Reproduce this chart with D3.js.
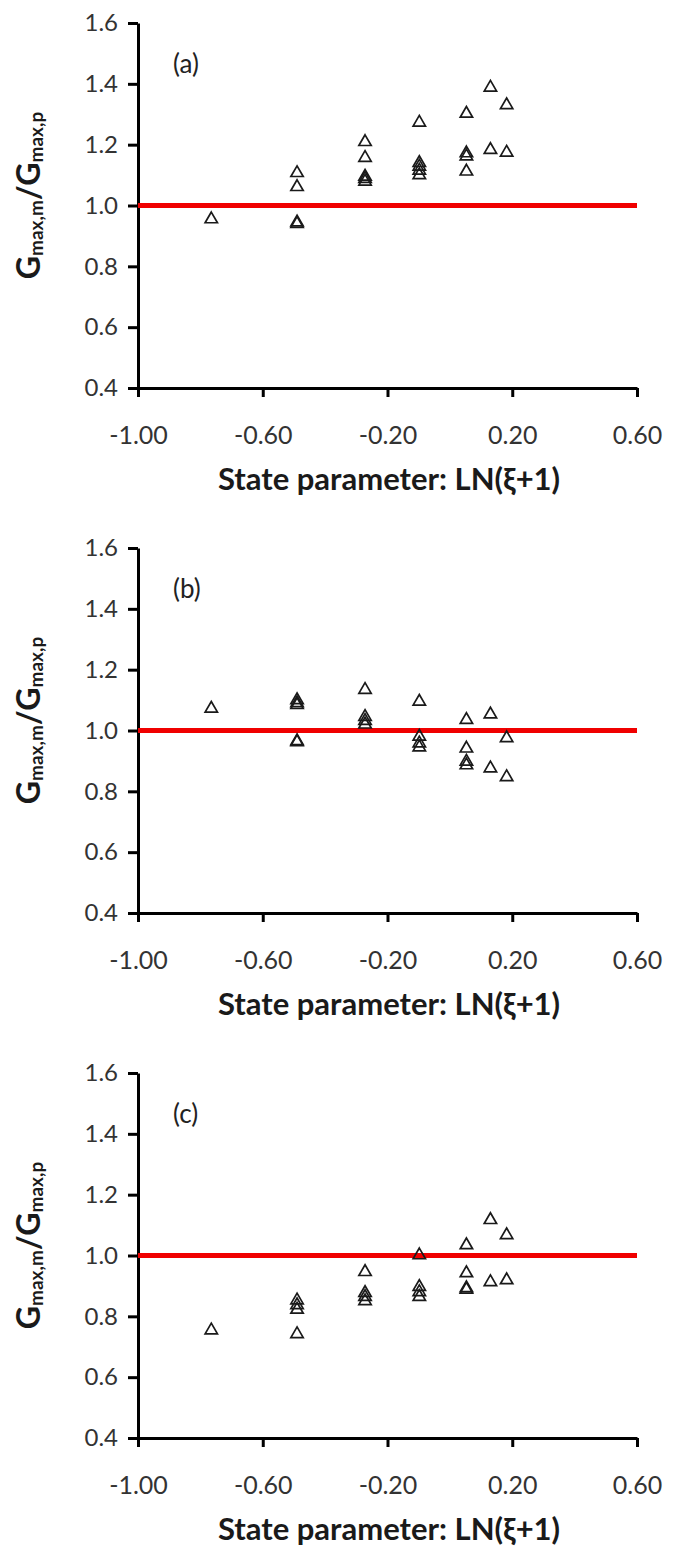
<!DOCTYPE html>
<html>
<head>
<meta charset="utf-8">
<script src="https://cdn.jsdelivr.net/npm/d3@7"></script>
<style>
  body { margin: 0; background: #fff; }
  text { font-family: Lato, "Open Sans", sans-serif; }
</style>
</head>
<body>
<div class="graph-section"></div>
<script>
// x positions of the seven sample columns, LN(xi+1)
var stateParam = [-0.765, -0.49, -0.272, -0.098, 0.053, 0.13, 0.182];

// Gmax,m / Gmax,p, one list per column
var ratioA = [
  [0.955],
  [1.107, 1.061, 0.945, 0.940],
  [1.209, 1.157, 1.095, 1.088, 1.079],
  [1.273, 1.140, 1.128, 1.115, 1.100],
  [1.302, 1.172, 1.162, 1.112],
  [1.388, 1.183],
  [1.330, 1.174]
];
var ratioB = [
  [1.072],
  [1.100, 1.090, 1.084, 0.965, 0.962],
  [1.134, 1.045, 1.032, 1.020],
  [1.095, 0.980, 0.958, 0.945],
  [1.035, 0.941, 0.898, 0.886],
  [1.053, 0.876],
  [0.975, 0.847]
];
var ratioC = [
  [0.754],
  [0.853, 0.837, 0.822, 0.742],
  [0.946, 0.877, 0.864, 0.850],
  [1.001, 0.897, 0.880, 0.864],
  [1.034, 0.942, 0.893, 0.888],
  [1.117, 0.913],
  [1.067, 0.919]
];

var panelLabels = ["(a)", "(b)", "(c)"];
var xTicks = [-1.0, -0.6, -0.2, 0.2, 0.6];
var yTicks = [0.4, 0.6, 0.8, 1.0, 1.2, 1.4, 1.6];

var screen = {width: 682, height: 1549};
var margins = {top: 23, left: 138, right: 45, panelHeight: 525, plotHeight: 365};

var svg = d3.select(".graph-section")
            .append("svg")
            .attr("width", screen.width)
            .attr("height", screen.height);

var xScale = d3.scaleLinear()
               .domain([-1, 0.6])
               .range([0, screen.width - margins.left - margins.right]);

var yScale = d3.scaleLinear()
               .domain([0.4, 1.6])
               .range([margins.plotHeight, 0]);

var triangle = d3.symbol().type(d3.symbolTriangle).size(66);

// plain hyphen like the original, not the unicode minus
var xFmt = function(d){ return d3.format(".2f")(d).replace("−", "-"); };

var drawPanel = function(ratios, label, i){
  var plot = svg.append("g")
                .attr("transform", "translate(" + margins.left + "," + (margins.top + i * margins.panelHeight) + ")");

  var points = [];
  ratios.forEach(function(col, c){
    col.forEach(function(v){ points.push({x: stateParam[c], y: v}); });
  });

  // y axis
  var yAxis = plot.append("g")
      .call(d3.axisLeft(yScale).tickValues(yTicks).tickFormat(d3.format(".1f"))
              .tickSize(10).tickSizeOuter(0).tickPadding(10));
  // x axis
  var xAxis = plot.append("g")
      .attr("transform", "translate(0," + margins.plotHeight + ")")
      .call(d3.axisBottom(xScale).tickValues(xTicks).tickFormat(xFmt)
              .tickSize(9).tickSizeOuter(0).tickPadding(29));

  [yAxis, xAxis].forEach(function(ax){
    ax.select(".domain").attr("stroke", "#000").attr("stroke-width", 3);
    ax.selectAll(".tick line").attr("stroke", "#000").attr("stroke-width", 3);
    ax.selectAll(".tick text").attr("fill", "#333").attr("font-family", "Lato, sans-serif");
  });
  yAxis.selectAll(".tick text").attr("font-size", 24);
  xAxis.selectAll(".tick text").attr("font-size", 25);

  // reference line at 1.0
  plot.append("line")
      .attr("x1", xScale(-1))
      .attr("x2", xScale(0.6))
      .attr("y1", yScale(1))
      .attr("y2", yScale(1))
      .attr("stroke", "#f00000")
      .attr("stroke-width", 5);

  plot.selectAll("path.pt")
      .data(points)
      .enter()
      .append("path")
      .classed("pt", true)
      .attr("d", triangle)
      .attr("transform", function(d){ return "translate(" + xScale(d.x) + "," + yScale(d.y) + ")"; })
      .attr("fill", "none")
      .attr("stroke", "#1a1a1a")
      .attr("stroke-width", 1.7);

  plot.append("text")
      .attr("x", 35)
      .attr("y", 50)
      .attr("font-size", 26)
      .attr("fill", "#222")
      .text(label);

  plot.append("text")
      .attr("x", 251)
      .attr("y", 467)
      .attr("text-anchor", "middle")
      .attr("font-size", 31)
      .attr("font-weight", "bold")
      .attr("fill", "#1a1a1a")
      .text("State parameter: LN(ξ+1)");

  var yLabel = plot.append("text")
      .attr("transform", "rotate(-90)")
      .attr("x", -yScale(1.0) + 10)
      .attr("y", -98)
      .attr("text-anchor", "middle")
      .attr("font-size", 32)
      .attr("font-weight", "bold")
      .attr("fill", "#1a1a1a");
  yLabel.append("tspan").text("G");
  yLabel.append("tspan").attr("font-size", 19).attr("dy", 3).text("max,m");
  yLabel.append("tspan").attr("dy", -3).text("/G");
  yLabel.append("tspan").attr("font-size", 19).attr("dy", 3).text("max,p");
};

drawPanel(ratioA, panelLabels[0], 0);
drawPanel(ratioB, panelLabels[1], 1);
drawPanel(ratioC, panelLabels[2], 2);
</script>
</body>
</html>
